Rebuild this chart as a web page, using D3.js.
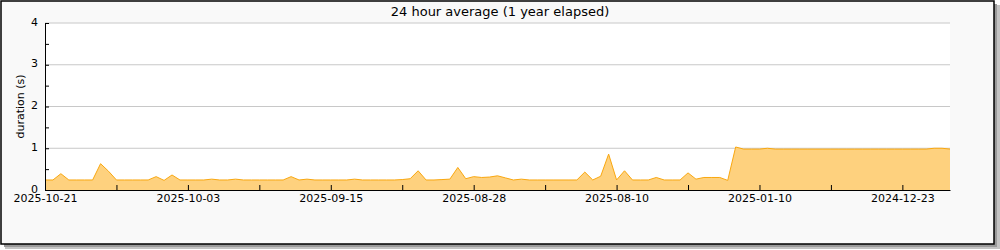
<!DOCTYPE html>
<meta charset="utf-8">
<script src="https://d3js.org/d3.v7.min.js"></script>
<style>
  body { margin: 0; background: #fff; }
  text { font-family: "DejaVu Sans", sans-serif; }
</style>
<div id="chart"></div>
<script>

// data: one point per day, newest first (gap between July and January)
const dates = [
  "2025-10-21","2025-10-20","2025-10-19","2025-10-18","2025-10-17","2025-10-16","2025-10-15","2025-10-14","2025-10-13","2025-10-12",
  "2025-10-11","2025-10-10","2025-10-09","2025-10-08","2025-10-07","2025-10-06","2025-10-05","2025-10-04","2025-10-03","2025-10-02",
  "2025-10-01","2025-09-30","2025-09-29","2025-09-28","2025-09-27","2025-09-26","2025-09-25","2025-09-24","2025-09-23","2025-09-22",
  "2025-09-21","2025-09-20","2025-09-19","2025-09-18","2025-09-17","2025-09-16","2025-09-15","2025-09-14","2025-09-13","2025-09-12",
  "2025-09-11","2025-09-10","2025-09-09","2025-09-08","2025-09-07","2025-09-06","2025-09-05","2025-09-04","2025-09-03","2025-09-02",
  "2025-09-01","2025-08-31","2025-08-30","2025-08-29","2025-08-28","2025-08-27","2025-08-26","2025-08-25","2025-08-24","2025-08-23",
  "2025-08-22","2025-08-21","2025-08-20","2025-08-19","2025-08-18","2025-08-17","2025-08-16","2025-08-15","2025-08-14","2025-08-13",
  "2025-08-12","2025-08-11","2025-08-10","2025-08-09","2025-08-08","2025-08-07","2025-08-06","2025-08-05","2025-08-04","2025-08-03",
  "2025-08-02","2025-08-01","2025-07-31","2025-07-30","2025-07-29","2025-07-28","2025-07-27",
  "2025-01-13","2025-01-12","2025-01-11","2025-01-10","2025-01-09","2025-01-08","2025-01-07","2025-01-06","2025-01-05","2025-01-04",
  "2025-01-03","2025-01-02","2025-01-01","2024-12-31","2024-12-30","2024-12-29","2024-12-28","2024-12-27","2024-12-26","2024-12-25",
  "2024-12-24","2024-12-23","2024-12-22","2024-12-21","2024-12-20","2024-12-19","2024-12-18","2024-12-17"
];

const durations = [
  0.24,0.24,0.39,0.24,0.24,0.24,0.24,0.63,0.45,0.24,
  0.24,0.24,0.24,0.24,0.32,0.23,0.36,0.24,0.24,0.24,
  0.24,0.26,0.24,0.24,0.26,0.24,0.24,0.24,0.24,0.24,
  0.24,0.32,0.24,0.26,0.24,0.24,0.24,0.24,0.24,0.26,
  0.24,0.24,0.24,0.24,0.24,0.25,0.27,0.46,0.24,0.24,
  0.25,0.26,0.54,0.27,0.32,0.30,0.31,0.34,0.29,0.24,
  0.26,0.24,0.24,0.24,0.24,0.24,0.24,0.24,0.43,0.24,
  0.33,0.86,0.24,0.46,0.24,0.24,0.24,0.30,0.24,0.24,
  0.24,0.41,0.26,0.30,0.30,0.30,0.23,
  1.03,0.98,0.98,0.98,1.00,0.98,0.98,0.98,0.98,0.98,
  0.98,0.98,0.98,0.98,0.98,0.98,0.98,0.98,0.98,0.98,
  0.98,0.98,0.98,0.98,0.98,1.00,1.00,0.98
];

const yTicks = [0, 0.5, 1, 1.5, 2, 2.5, 3, 3.5, 4];
const title = "24 hour average (1 year elapsed)";
const yLabel = "duration (s)";

const data = dates.map((d, i) => ({date: d, value: durations[i]}));

const margin = {top: 23, right: 50, bottom: 60, left: 45},
      width = 1000 - margin.left - margin.right,
      height = 250 - margin.top - margin.bottom;

const root = d3.select("#chart")
    .append("svg")
    .attr("width", 1000)
    .attr("height", 250);

// frame with a drop shadow
root.append("rect").attr("x", 5).attr("y", 5).attr("width", 995).attr("height", 244).attr("fill", "#c4c4c4");
root.append("rect").attr("x", 4).attr("y", 4).attr("width", 993).attr("height", 243).attr("fill", "#9a9a9a");
root.append("rect")
    .attr("x", 1).attr("y", 1).attr("width", 993).attr("height", 243)
    .attr("fill", "#f9f9f9").attr("stroke", "#000").attr("stroke-width", 1.5);

root.append("text")
    .attr("x", 500).attr("y", 16)
    .attr("text-anchor", "middle")
    .style("font-size", "13px")
    .text(title);

root.append("text")
    .attr("transform", `translate(24, ${margin.top + height / 2}) rotate(-90)`)
    .attr("text-anchor", "middle")
    .style("font-size", "11px")
    .text(yLabel);

const svg = root.append("g")
    .attr("transform", `translate(${margin.left}, ${margin.top})`);

svg.append("rect").attr("width", width).attr("height", height).attr("fill", "#fff");

const x = d3.scalePoint()
    .domain(dates)
    .range([0, width]);

const y = d3.scaleLinear()
    .domain([0, 4])
    .range([height, 0]);

// gridlines
svg.append("g")
  .selectAll("line")
  .data(yTicks.filter(t => t > 0 && t % 1 === 0))
  .join("line")
    .attr("x1", 0).attr("x2", width)
    .attr("y1", d => y(d)).attr("y2", d => y(d))
    .attr("stroke", "#c8c8c8");

// area + line
const area = d3.area()
    .x(d => x(d.date))
    .y0(height)
    .y1(d => y(d.value));

const line = d3.line()
    .x(d => x(d.date))
    .y(d => y(d.value));

svg.append("path").datum(data).attr("d", area).attr("fill", "#fed17e");
svg.append("path").datum(data).attr("d", line)
    .attr("fill", "none").attr("stroke", "#f9a70f").attr("stroke-width", 1);

// axes
const xTickVals = dates.filter((d, i) => i % 9 === 0);
const xAxis = svg.append("g")
    .attr("transform", `translate(0, ${height})`)
    .call(d3.axisBottom(x)
      .tickValues(xTickVals)
      .tickSizeInner(-5)
      .tickSizeOuter(0)
      .tickPadding(4)
      .tickFormat(d => dates.indexOf(d) % 18 === 0 ? d : ""));

const yAxis = svg.append("g")
    .call(d3.axisLeft(y)
      .tickValues(yTicks)
      .tickSizeInner(-4)
      .tickSizeOuter(0)
      .tickPadding(7)
      .tickFormat(d => d % 1 === 0 ? d : ""));

yAxis.selectAll("text").attr("dy", "0.2em");

[xAxis, yAxis].forEach(a => {
  a.selectAll("text").style("font-family", "DejaVu Sans, sans-serif").style("font-size", "11px").attr("fill", "#000");
  a.selectAll("line, path").attr("stroke", "#000");
});

</script>
